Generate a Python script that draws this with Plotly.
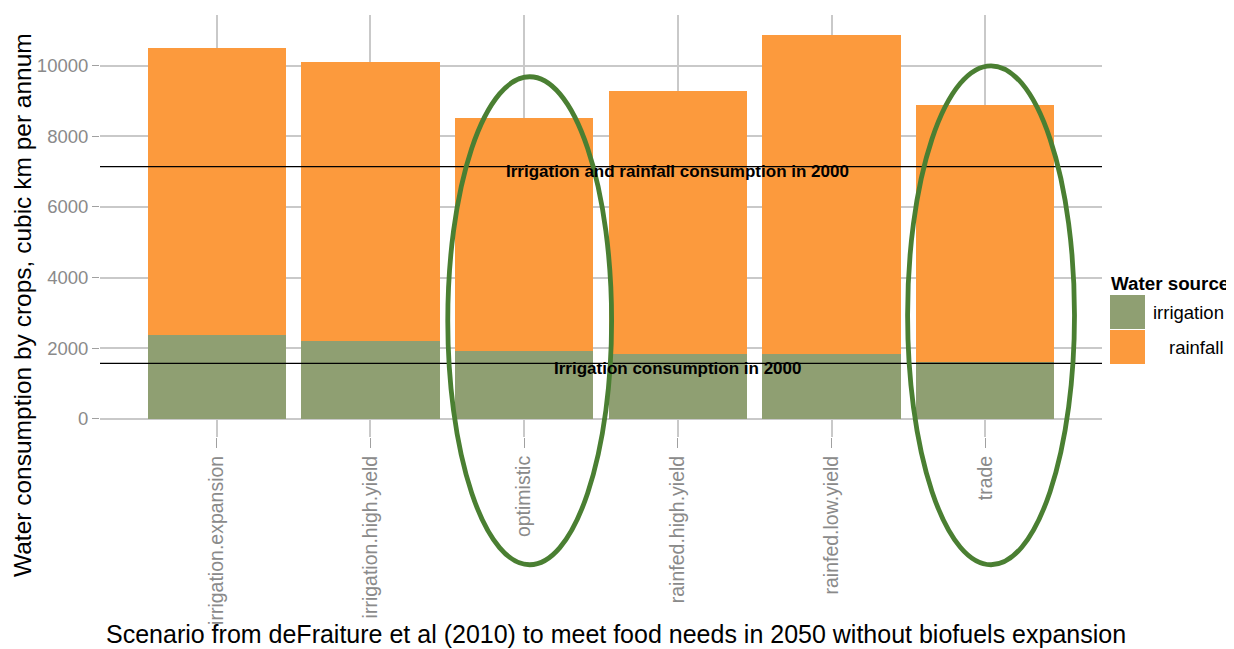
import plotly.graph_objects as go

# ---- data ----
scenarios = ["irrigation.expansion", "irrigation.high.yield", "optimistic",
             "rainfed.high.yield", "rainfed.low.yield", "trade"]
irrigation = [2380, 2210, 1925, 1840, 1840, 1610]
rainfall_total = [10510, 10115, 8530, 9290, 10880, 8895]
rainfall = [t - i for t, i in zip(rainfall_total, irrigation)]
series_names = ["irrigation", "rainfall"]
ref_values = [7140, 1565]
ref_labels = ["Irrigation and rainfall consumption in 2000", "Irrigation consumption in 2000"]
highlighted = ["optimistic", "trade"]
y_ticks = [0, 2000, 4000, 6000, 8000, 10000]
y_ticklabels = ["0", "2000", "4000", "6000", "8000", "10000"]
x_title = "Scenario from deFraiture et al (2010) to meet food needs in 2050 without biofuels expansion"
y_title = "Water consumption by crops, cubic km per annum"
legend_title = "Water source"

# ---- style ----
C_IRR = "#8F9F72"
C_RAIN = "#FC9A3D"
C_ELL = "#4A7F32"
GRID = "#C9C9C9"
TICKC = "#8A8A8A"
FONT = "Liberation Sans, Arial, sans-serif"

XR = [-0.76, 5.76]
YR = [-520, 11440]

def xp(v):
    return (v - XR[0]) / (XR[1] - XR[0])

def yp(v):
    return (v - YR[0]) / (YR[1] - YR[0])

# plot-area pixel geometry in window coords (page body has an 8px margin)
PX0, PW, PY0, PH = 100, 1002, 15, 422
BODY = 8
def ppx(px):
    return (px - PX0) / PW
def ppy(py):
    return (PY0 + PH - py) / PH

fig = go.Figure()
fig.add_trace(go.Bar(x=scenarios, y=irrigation, name=series_names[0],
                     marker=dict(color=C_IRR, line=dict(width=0)), width=0.9,
                     showlegend=False))
fig.add_trace(go.Bar(x=scenarios, y=rainfall, name=series_names[1],
                     marker=dict(color=C_RAIN, line=dict(width=0)), width=0.9,
                     showlegend=False))

# reference lines + labels
for val, lab in zip(ref_values, ref_labels):
    fig.add_hline(y=val, line=dict(color="black", width=1.3), layer="above")
    fig.add_annotation(x=3, y=val, text=lab, showarrow=False, xref="x", yref="y",
                       yshift=-5, font=dict(family=FONT, size=17, color="black", weight="bold"))

# highlight ellipses
ell = {"optimistic": (0.036, 0.533, 9690, -4140), "trade": (0.038, 0.543, 10000, -4140)}
for name in highlighted:
    i = scenarios.index(name)
    off, hw, top, bot = ell[name]
    fig.add_shape(type="circle", xref="paper", yref="paper",
                  x0=xp(i + off - hw), x1=xp(i + off + hw), y0=yp(bot), y1=yp(top),
                  line=dict(color=C_ELL, width=4.8), layer="above")

# manual legend
fig.add_annotation(x=ppx(1109), y=ppy(283), xref="paper", yref="paper", text=legend_title,
                   showarrow=False, xanchor="left", yanchor="middle",
                   font=dict(family=FONT, size=18.8, color="black", weight="bold"))
for k, (nm, col) in enumerate(zip(series_names, [C_IRR, C_RAIN])):
    top = 295 + k * 35
    fig.add_shape(type="rect", xref="paper", yref="paper",
                  x0=ppx(1110), x1=ppx(1145), y0=ppy(top + 34), y1=ppy(top),
                  fillcolor=col, line=dict(width=0))
    fig.add_annotation(x=ppx(1226), y=ppy(top + 17), xref="paper", yref="paper", text=nm,
                       showarrow=False, xanchor="right", yanchor="middle",
                       font=dict(family=FONT, size=18.5, color="black"))

# axis titles
fig.add_annotation(x=ppx(616), y=ppy(634), xref="paper", yref="paper", text=x_title,
                   showarrow=False, xanchor="center", yanchor="middle",
                   font=dict(family=FONT, size=25, color="black"))
fig.add_annotation(x=ppx(22), y=ppy(305), xref="paper", yref="paper", text=y_title,
                   showarrow=False, xanchor="center", yanchor="middle", textangle=-90,
                   font=dict(family=FONT, size=24.5, color="black"))

W, H = 1234 - BODY, 649 - BODY
ml, mt = PX0 - BODY, PY0 - BODY
fig.update_layout(
    width=W, height=H,
    margin=dict(l=ml, r=W - ml - PW, t=mt, b=H - mt - PH),
    barmode="stack", bargap=0.1,
    plot_bgcolor="white", paper_bgcolor="white",
    font=dict(family=FONT),
    showlegend=False,
)
fig.update_xaxes(range=XR, showgrid=True, gridcolor=GRID, gridwidth=1.5, automargin=False,
                 ticks="outside", ticklen=10, tickcolor="#A0A0A0", tickwidth=1.3,
                 tickangle=-90, tickfont=dict(family=FONT, size=19.5, color=TICKC),
                 zeroline=False, showline=False)
fig.update_yaxes(range=YR, tickvals=y_ticks, ticktext=y_ticklabels, showgrid=True,
                 gridcolor=GRID, gridwidth=1.5, automargin=False,
                 ticks="outside", ticklen=7, tickcolor="#A0A0A0", tickwidth=1.3,
                 tickfont=dict(family=FONT, size=18.5, color=TICKC),
                 zeroline=False, showline=False)

fig.write_html("out.html")
